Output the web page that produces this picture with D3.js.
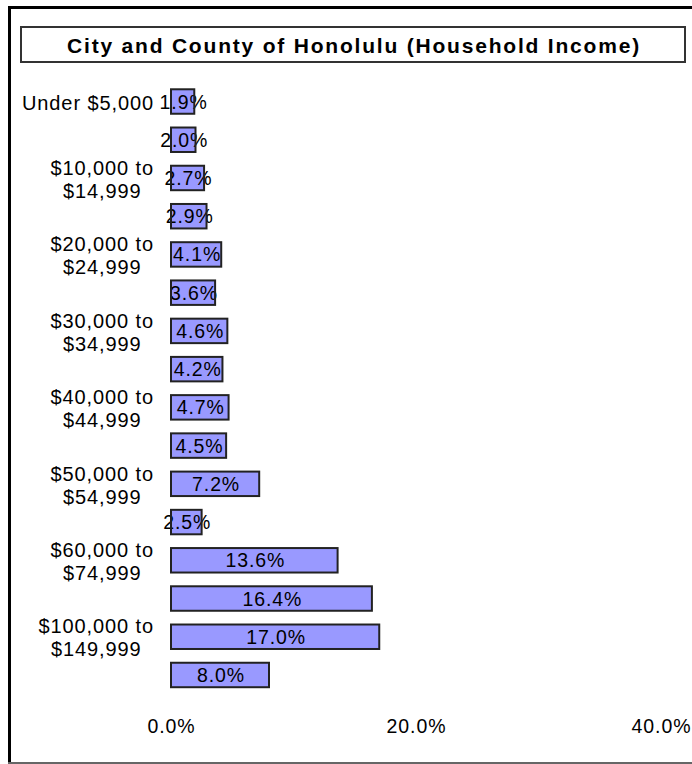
<!DOCTYPE html>
<html>
<head>
<meta charset="utf-8">
<script src="https://cdn.jsdelivr.net/npm/d3@7"></script>
<style>
  body { margin: 0; background: #fff; }
  text { font-family: "Liberation Sans", Arial, sans-serif; fill: #000; }
</style>
</head>
<body>
<div id="chart"></div>
<script>
// household income brackets, top to bottom
var categories = [
    "Under $5,000", "$5,000 to $9,999", "$10,000 to $14,999", "$15,000 to $19,999",
    "$20,000 to $24,999", "$25,000 to $29,999", "$30,000 to $34,999", "$35,000 to $39,999",
    "$40,000 to $44,999", "$45,000 to $49,999", "$50,000 to $54,999", "$55,000 to $59,999",
    "$60,000 to $74,999", "$75,000 to $99,999", "$100,000 to $149,999", "$150,000 or more"
];
// percent of households
var values = [1.9, 2.0, 2.7, 2.9, 4.1, 3.6, 4.6, 4.2, 4.7, 4.5, 7.2, 2.5, 13.6, 16.4, 17.0, 8.0];
// only every other category gets a label on the axis
var shownLabels = [
    ["Under $5,000"], [], ["$10,000 to", "$14,999"], [],
    ["$20,000 to", "$24,999"], [], ["$30,000 to", "$34,999"], [],
    ["$40,000 to", "$44,999"], [], ["$50,000 to", "$54,999"], [],
    ["$60,000 to", "$74,999"], [], ["$100,000 to", "$149,999"], []
];
var xTicks = [0, 20, 40];
var title = "City and County of Honolulu (Household Income)";

var width = 692, height = 764;

var svg = d3.select("#chart").append("svg")
    .attr("width", width)
    .attr("height", height);

// outer frame: black left/top, grey bottom
svg.append("path")
    .attr("d", "M9.5,764 V7.5 H692")
    .attr("fill", "none")
    .attr("stroke", "#000")
    .attr("stroke-width", 3);
svg.append("line")
    .attr("x1", 8).attr("x2", 692)
    .attr("y1", 763).attr("y2", 763)
    .attr("stroke", "#666")
    .attr("stroke-width", 2);

// title box
svg.append("rect")
    .attr("x", 21).attr("y", 27)
    .attr("width", 664).attr("height", 35)
    .attr("fill", "#fff")
    .attr("stroke", "#333")
    .attr("stroke-width", 2);
svg.append("text")
    .attr("x", 354).attr("y", 45)
    .attr("dy", "0.36em")
    .attr("text-anchor", "middle")
    .style("font-size", "21px")
    .style("font-weight", "bold")
    .style("letter-spacing", "1.8px")
    .text(title);

// scales
var x = d3.scaleLinear()
    .domain([0, 40])
    .range([171, 661]);

var y = d3.scaleBand()
    .domain(categories)
    .range([82.4, 694.1])
    .paddingInner(0.36)
    .paddingOuter(0.18);

var rows = categories.map(function(c, i) { return {cat: c, value: values[i], lines: shownLabels[i]}; });

// bar fills first
svg.append("g").selectAll("rect")
    .data(rows)
    .enter().append("rect")
    .attr("x", x(0))
    .attr("y", function(d) { return y(d.cat); })
    .attr("width", function(d) { return x(d.value) - x(0); })
    .attr("height", y.bandwidth())
    .attr("fill", "#9999ff");

// value labels, centred on each bar
svg.append("g").selectAll("text")
    .data(rows)
    .enter().append("text")
    .attr("x", function(d) { return (x(0) + x(d.value)) / 2 + 1; })
    .attr("y", function(d) { return y(d.cat) + y.bandwidth() / 2; })
    .attr("dy", "0.36em")
    .attr("text-anchor", "middle")
    .style("font-size", "19.5px")
    .style("letter-spacing", "0.9px")
    .text(function(d) { return d.value.toFixed(1) + "%"; });

// bar outlines drawn over the labels
svg.append("g").selectAll("rect")
    .data(rows)
    .enter().append("rect")
    .attr("x", x(0))
    .attr("y", function(d) { return y(d.cat); })
    .attr("width", function(d) { return x(d.value) - x(0); })
    .attr("height", y.bandwidth())
    .attr("fill", "none")
    .attr("stroke", "#222")
    .attr("stroke-width", 2);

// category labels: block right-aligned to the axis, lines centred in the block
var labelRight = 154, lineHeight = 23;
rows.forEach(function(d) {
    if (!d.lines.length) return;
    var cy = y(d.cat) + y.bandwidth() / 2 + 1;
    var g = svg.append("g");
    var texts = g.selectAll("text")
        .data(d.lines)
        .enter().append("text")
        .attr("y", function(l, j) { return cy + (j - (d.lines.length - 1) / 2) * lineHeight; })
        .attr("dy", "0.36em")
        .attr("text-anchor", "middle")
        .style("font-size", "20px")
        .style("letter-spacing", "0.9px")
        .text(function(l) { return l; });
    var w = d3.max(texts.nodes(), function(n) { return n.getComputedTextLength(); });
    texts.attr("x", labelRight - w / 2);
});

// x axis: labels only
var xAxis = svg.append("g")
    .attr("transform", "translate(0,716)")
    .call(d3.axisBottom(x)
        .tickValues(xTicks)
        .tickSize(0)
        .tickFormat(function(d) { return d.toFixed(1) + "%"; }));
xAxis.select(".domain").remove();
xAxis.selectAll("text")
    .style("font-family", "Liberation Sans, Arial, sans-serif")
    .style("font-size", "19.5px")
    .style("letter-spacing", "0.9px")
    .attr("fill", "#000");
</script>
</body>
</html>
